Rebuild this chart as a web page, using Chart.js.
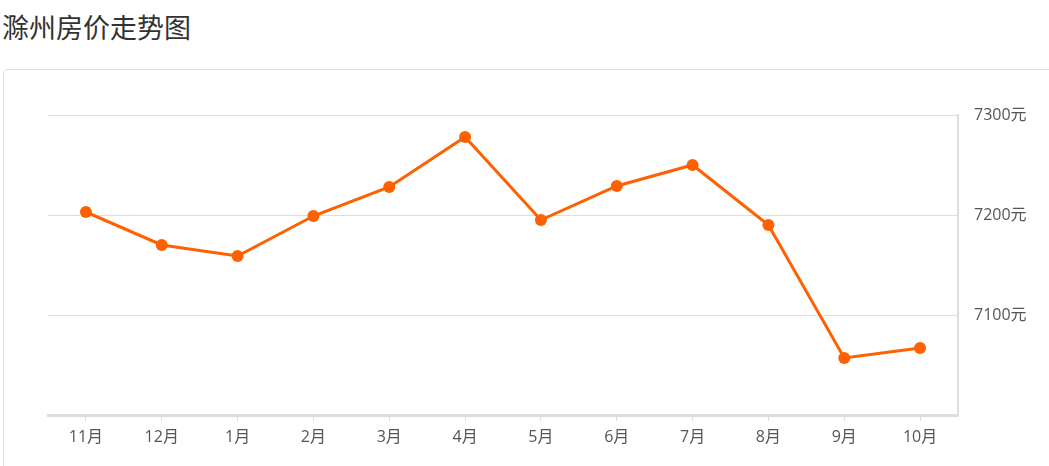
<!DOCTYPE html>
<html>
<head>
<meta charset="utf-8">
<script src="https://cdn.jsdelivr.net/npm/chart.js@4/dist/chart.umd.min.js"></script>
<style>
  html, body { margin: 0; padding: 0; background: #fff; overflow: hidden; }
  body { width: 1049px; height: 466px; position: relative; }
  .title {
    position: absolute; left: 2px; top: 7px;
    font-family: "Noto Sans CJK SC", sans-serif; font-size: 27px; color: #333;
    line-height: 40px;
  }
  .card {
    position: absolute; left: 3px; top: 69px; width: 1080px; height: 440px;
    border: 1px solid #ddd; border-radius: 5px; box-sizing: border-box;
  }
  #myChart { position: absolute; left: 0; top: 0; }
</style>
</head>
<body>
<div class="title">滁州房价走势图</div>
<div class="card"></div>
<canvas id="myChart" width="1049" height="466"></canvas>
<script>
const months = ["11月", "12月", "1月", "2月", "3月", "4月", "5月", "6月", "7月", "8月", "9月", "10月"];
const prices = [7203, 7170, 7159, 7199, 7228, 7278, 7195, 7229, 7250, 7190, 7057, 7067];
const yTicks = [7000, 7100, 7200, 7300];

const lineColor = "#ff6000";
const labelFont = { family: "'Open Sans', 'Noto Sans CJK SC', sans-serif", size: 16 };

const ctx = document.getElementById("myChart");
const myChart = new Chart(ctx, {
  type: "line",
  data: {
    labels: months,
    datasets: [{
      data: prices,
      borderColor: lineColor,
      backgroundColor: lineColor,
      borderWidth: 3,
      pointRadius: 6,
      pointBackgroundColor: lineColor,
      pointBorderWidth: 0,
      tension: 0
    }]
  },
  options: {
    responsive: false,
    animation: false,
    layout: { padding: { left: 48, top: 115, right: 0, bottom: 0 } },
    plugins: { legend: { display: false }, tooltip: { enabled: false } },
    scales: {
      x: {
        offset: true,
        border: { color: "#ddd", width: 3 },
        grid: { drawOnChartArea: false, drawTicks: true, tickLength: 6, color: "#ddd" },
        ticks: { color: "#555", font: labelFont, padding: 7 },
        afterFit: (axis) => { axis.height = 51; }
      },
      y: {
        position: "right",
        min: 7000,
        max: 7300,
        border: { color: "#ddd", width: 2 },
        grid: { color: "#ddd", drawTicks: false },
        afterBuildTicks: (axis) => { axis.ticks = yTicks.map(v => ({ value: v })); },
        ticks: {
          color: "#555",
          font: labelFont,
          padding: 16,
          callback: (v) => v === 7000 ? "" : v + "元"
        },
        afterFit: (axis) => { axis.width = 91; }
      }
    }
  }
});
</script>
</body>
</html>
